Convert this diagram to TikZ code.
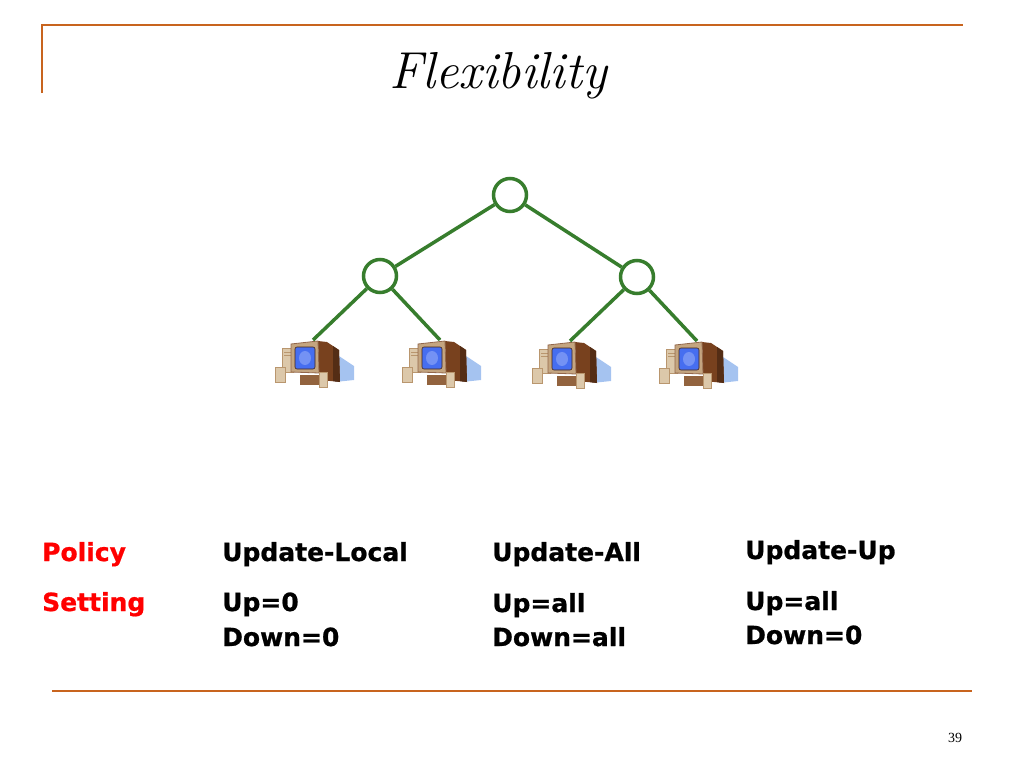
\documentclass[tikz,border=0pt]{standalone}
\usepackage{fontspec}
\newfontfamily\tabfont{DejaVu Sans}[BoldFeatures={FakeBold=0.8}]
\newfontfamily\numfont{Liberation Serif}
\definecolor{rule}{RGB}{200,100,30}
\definecolor{tree}{RGB}{55,125,45}
\definecolor{pcbeige}{RGB}{220,200,170}
\definecolor{pcbrown}{RGB}{120,65,30}
\definecolor{pctan}{RGB}{185,150,110}
\definecolor{pcscreen}{RGB}{70,110,240}
\definecolor{pcshadow}{RGB}{165,195,240}
\tikzset{
  hub/.style={circle,draw=tree,line width=3.5pt,minimum size=33pt,inner sep=0pt},
  link/.style={draw=tree,line width=3.5pt},
  cell/.style={anchor=base west,inner sep=0pt,font=\tabfont\bfseries\fontsize{25}{30}\selectfont},
  pcicon/.pic={
    \fill[pcshadow] (14,8) -- (41,26) -- (41,40) -- (22,42) -- cycle;
    \fill[pcbrown] (5,1) -- (14,2) -- (26,10) -- (27,42) -- (8,40) -- (6,33) -- cycle;
    \fill[pcbrown!70!black] (20,6) -- (26,10) -- (27,42) -- (20,41) -- cycle;
    \fill[pcbeige,draw=pctan,line width=0.6pt] (-31,8) rectangle (-20,32);
    \draw[pctan,line width=0.6pt] (-29,12) -- (-22,12) (-29,15) -- (-22,15);
    \fill[pcbeige,draw=pctan,line width=0.6pt] (-38,27) rectangle (-28,42);
    \fill[pctan!70!pcbeige,draw=pcbrown!80,line width=0.8pt] (-22,4) -- (5,1) -- (6,33) -- (-22,32) -- cycle;
    \fill[pcscreen,draw=pcbrown!60!black,line width=0.6pt,rounded corners=2pt] (-18,7) rectangle (2,29);
    \fill[pcscreen!75!white] (-8,18) circle[x radius=6,y radius=7];
    \fill[pcbrown!60!pctan] (-13,35) rectangle (9,45);
    \fill[pcbeige,draw=pctan,line width=0.6pt] (6,32) rectangle (14,47);
  }
}
\begin{document}
\begin{tikzpicture}[x=1pt,y=-1pt]
\useasboundingbox (0,0) rectangle (1024,768); % slide size
% frame rules
\draw[rule,line width=2pt] (42,93) -- (42,25) -- (963,25);
\draw[rule,line width=2pt] (52,691) -- (972,691);
\node[anchor=base,inner sep=0pt,font=\fontsize{52}{60}\selectfont\itshape] (title) at (498,88) {Flexibility};
% tree
\node[hub] (root) at (510,195) {};
\node[hub] (midL) at (380,276) {};
\node[hub] (midR) at (637,277) {};
\coordinate (pcA) at (313,340);
\coordinate (pcB) at (440,340);
\coordinate (pcC) at (570,341);
\coordinate (pcD) at (697,341);
\path (pcA) pic{pcicon} (pcB) pic{pcicon} (pcC) pic{pcicon} (pcD) pic{pcicon};
\draw[link] (root) -- (midL);
\draw[link] (root) -- (midR);
\draw[link] (midL) -- (pcA);
\draw[link] (midL) -- (pcB);
\draw[link] (midR) -- (pcC);
\draw[link] (midR) -- (pcD);
% policy table
\node[cell,red] (policy) at (42,561) {Policy};
\node[cell,red] (setting) at (42,611) {Setting};
\node[cell] (polA) at (222,561) {Update-Local};
\node[cell] (upA) at (222,611) {Up=0};
\node[cell] (downA) at (222,646) {Down=0};
\node[cell] (polB) at (492,561) {Update-All};
\node[cell] (upB) at (492,612) {Up=all};
\node[cell] (downB) at (492,646) {Down=all};
\node[cell] (polC) at (745,559) {Update-Up};
\node[cell] (upC) at (745,610) {Up=all};
\node[cell] (downC) at (745,644) {Down=0};
\node[anchor=base,inner sep=0pt,font=\numfont\fontsize{14}{16}\selectfont] (pagenum) at (955,742) {39};
\end{tikzpicture}
\end{document}
